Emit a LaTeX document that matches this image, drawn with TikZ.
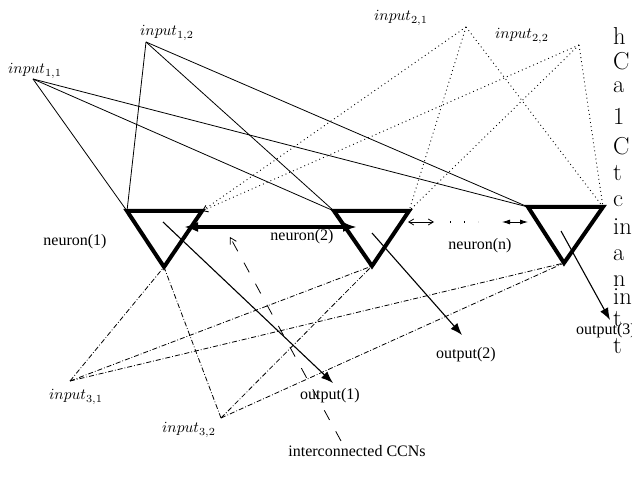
\documentclass[tikz,border=0pt]{standalone}
\usepackage{fontspec}
\usepackage{graphicx}
\usetikzlibrary{arrows.meta}
\newfontfamily\timesfont{Liberation Serif}

\begin{document}
\begin{tikzpicture}[
    x=1pt, y=-1pt,
    neuron/.style={line width=4pt, line join=miter},
    synapse/.style={line width=0.8pt},
    dotsyn/.style={line width=0.9pt, dash pattern=on 0.9pt off 3.2pt},
    dashdotsyn/.style={line width=0.8pt, dash pattern=on 5pt off 2pt on 0.8pt off 2pt},
    outarrow/.style={line width=1.1pt, -{Latex[length=12pt, width=9pt]}},
    txt/.style={font=\timesfont\fontsize{16}{19}\selectfont, inner sep=0pt},
    inlabel/.style={inner sep=0pt},
    sidetext/.style={font=\fontsize{24.5}{29}\selectfont, anchor=base west, inner sep=0pt}
]
    \useasboundingbox (0,0) rectangle (632,481);
    \clip (0,0) rectangle (632,481);

    % Neuron corners
    \coordinate (n1l) at (127,211);
    \coordinate (n1r) at (202,211);
    \coordinate (n1b) at (164,267);
    \coordinate (n2l) at (334,211);
    \coordinate (n2r) at (409,211);
    \coordinate (n2b) at (372,266);
    \coordinate (n3l) at (528,207);
    \coordinate (n3r) at (603,207);
    \coordinate (n3b) at (564,263);

    % Input points
    \coordinate (in11) at (33,79);
    \coordinate (in12) at (146,42);
    \coordinate (in21) at (466,27);
    \coordinate (in22) at (579,45);
    \coordinate (in31) at (70,381);
    \coordinate (in32) at (221,418);

    % Input labels
    \node[inlabel] (l11) at (35,71) {\scalebox{1.55}{$input_{1,1}$}};
    \node[inlabel] (l12) at (167,33) {\scalebox{1.55}{$input_{1,2}$}};
    \node[inlabel] (l21) at (401,18) {\scalebox{1.55}{$input_{2,1}$}};
    \node[inlabel] (l22) at (522,36) {\scalebox{1.55}{$input_{2,2}$}};
    \node[inlabel] (l31) at (76,397) {\scalebox{1.55}{$input_{3,1}$}};
    \node[inlabel] (l32) at (189,430) {\scalebox{1.55}{$input_{3,2}$}};

    % First input group (solid)
    \draw[synapse] (in11) -- (n1l);
    \draw[synapse] (in11) -- (n2l);
    \draw[synapse] (in11) -- (n3l);
    \draw[synapse] (in12) -- (n1l);
    \draw[synapse] (in12) -- (n2l);
    \draw[synapse] (in12) -- (n3l);

    % Second input group (dotted)
    \draw[dotsyn] (in21) -- (n1r);
    \draw[dotsyn, -{Straight Barb[length=5pt, width=7pt]}] (in22) -- (n1r);
    \draw[dotsyn] (in21) -- (n2r);
    \draw[dotsyn] (in21) -- (n3r);
    \draw[dotsyn] (in22) -- (n2r);
    \draw[dotsyn] (in22) -- (n3r);

    % Third input group (dash dot)
    \draw[dashdotsyn] (in31) -- (n1b);
    \draw[dashdotsyn] (in31) -- (n2b);
    \draw[dashdotsyn] (in31) -- (n3b);
    \draw[dashdotsyn] (in32) -- (n1b);
    \draw[dashdotsyn] (in32) -- (n2b);
    \draw[dashdotsyn] (in32) -- (n3b);

    % Neurons
    \draw[neuron] (n1l) -- (n1r) -- (n1b) -- cycle;
    \draw[neuron] (n2l) -- (n2r) -- (n2b) -- cycle;
    \draw[neuron] (n3l) -- (n3r) -- (n3b) -- cycle;

    % Neuron labels
    \node[txt] (lab1) at (75,242) {neuron(1)};
    \node[txt] (lab2) at (302,237) {neuron(2)};
    \node[txt] (labn) at (480,246) {neuron(n)};

    % Links between neurons
    \coordinate (b1) at (184,227);
    \coordinate (b2) at (357,227);
    \draw[line width=3.5pt, {Latex[length=14pt, width=10pt]}-{Latex[length=14pt, width=10pt]}] (b1) -- (b2);
    \coordinate (d1) at (408,222);
    \coordinate (d2) at (434,222);
    \coordinate (d3) at (502,222);
    \coordinate (d4) at (528,222);
    \draw[line width=0.8pt, {Straight Barb[length=5pt, width=6pt]}-{Straight Barb[length=5pt, width=6pt]}] (d1) -- (d2);
    \draw[line width=0.8pt, {Latex[length=8pt, width=5pt]}-{Latex[length=8pt, width=5pt]}] (d3) -- (d4);
    \coordinate (e1) at (450,222);
    \coordinate (e2) at (478,222);
    \draw[line width=1.3pt, dash pattern=on 1.3pt off 12.7pt] (e1) -- (e2);

    % Outputs
    \coordinate (o1s) at (163,222);
    \coordinate (o1e) at (333,383);
    \coordinate (o2s) at (372,233);
    \coordinate (o2e) at (462,335);
    \coordinate (o3s) at (561,231);
    \coordinate (o3e) at (610,320);
    \draw[outarrow] (o1s) -- (o1e);
    \draw[outarrow] (o2s) -- (o2e);
    \draw[outarrow] (o3s) -- (o3e);
    \node[txt] (out1) at (330,396) {output(1)};
    \node[txt] (out2) at (466,355) {output(2)};
    \node[txt] (out3) at (606,331) {output(3)};

    % Interconnection
    \node[txt] (ccn) at (357,451) {interconnected CCNs};
    \coordinate (cc1) at (341,441);
    \coordinate (cc2) at (230,237);
    \draw[line width=0.8pt, dash pattern=on 11pt off 13pt, -{Straight Barb[length=6pt, width=7pt]}] (cc1) -- (cc2);

    % Neighbouring text column
    \node[sidetext] (s1) at (613,45) {h};
    \node[sidetext] (s2) at (613,70) {C};
    \node[sidetext] (s3) at (613,93) {a};
    \node[sidetext] (s4) at (613,125) {1};
    \node[sidetext] (s5) at (613,155) {C};
    \node[sidetext] (s6) at (613,181) {t};
    \node[sidetext] (s7) at (613,207) {c};
    \node[sidetext] (s8) at (613,235) {in};
    \node[sidetext] (s9) at (613,261) {a};
    \node[sidetext] (s10) at (613,287) {n};
    \node[sidetext] (s11) at (613,304) {in};
    \node[sidetext] (s12) at (613,326) {t};
    \node[sidetext] (s13) at (613,353) {t};
\end{tikzpicture}
\end{document}
